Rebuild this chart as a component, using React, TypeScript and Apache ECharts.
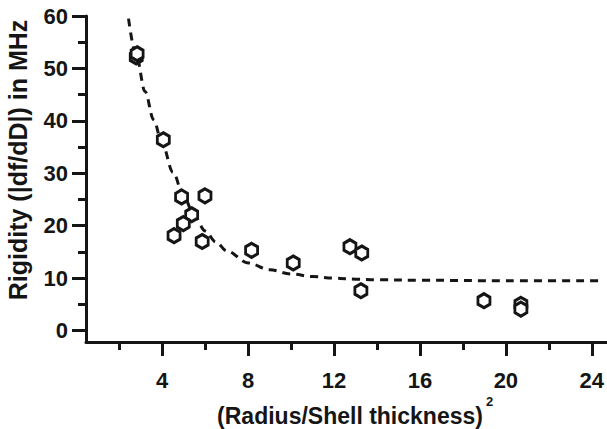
import React, { useEffect, useRef } from "react";
import * as echarts from "echarts";

// Measured points (x = (Radius/Shell thickness)^2, y = rigidity in MHz)
const pointX = [2.79, 2.83, 4.05, 4.9, 5.99, 5.37, 4.98, 4.55, 5.86, 8.16, 10.1, 12.74, 13.29, 13.25, 18.98, 20.7, 20.7];
const pointY = [52.2, 52.8, 36.4, 25.5, 25.7, 22.1, 20.4, 18.1, 17.0, 15.3, 12.9, 16.0, 14.8, 7.6, 5.7, 5.0, 4.1];

// Dashed fit curve
const fitX = [2.43, 2.8, 3.2, 3.6, 4.0, 4.5, 5.0, 5.5, 6.0, 6.5, 7.0, 8.0, 9.0, 10.0, 11.0, 12.0, 13.0, 14.0, 16.0, 20.0, 24.5];
const fitY = [59.5, 52.3, 45.6, 40.2, 35.6, 30.2, 25.6, 21.8, 19.0, 16.9, 15.2, 12.9, 11.6, 10.8, 10.3, 10.0, 9.8, 9.7, 9.6, 9.5, 9.5];

// Ticks
const xMajorTicks = [4, 8, 12, 16, 20, 24];
const xMinorTicks = [2, 6, 10, 14, 18, 22];
const yMajorTicks = [0, 10, 20, 30, 40, 50, 60];
const yMinorTicks = [5, 15, 25, 35, 45, 55];

const INK = "#151515";
const FONT = "'Liberation Sans', Arial, Helvetica, sans-serif";

export default function App() {
  const ref = useRef<HTMLDivElement>(null);
  useEffect(() => {
    if (!ref.current) return;
    const chart = echarts.init(ref.current, undefined, { renderer: "svg" });
    const XMIN = 0.45, XMAX = 24.7, YMIN = -2.18, YMAX = 60;
    const baseX = {
      type: "value" as const,
      min: XMIN,
      max: XMAX,
      position: "bottom" as const,
      splitLine: { show: false },
    };
    const baseY = {
      type: "value" as const,
      min: YMIN,
      max: YMAX,
      position: "left" as const,
      splitLine: { show: false },
    };
    chart.setOption({
      animation: false,
      backgroundColor: "#ffffff",
      grid: { left: 86, right: 0, top: 16, bottom: 87, containLabel: false },
      xAxis: [
        {
          ...baseX,
          axisLine: { show: true, onZero: false, lineStyle: { color: INK, width: 3 } },
          axisTick: { show: true, customValues: xMajorTicks, length: 14, lineStyle: { color: INK, width: 3 } },
          axisLabel: {
            show: true,
            customValues: xMajorTicks,
            margin: 27,
            color: INK,
            fontSize: 22,
            fontWeight: "bold",
            fontFamily: FONT,
          },
        },
        {
          ...baseX,
          axisLine: { show: false, onZero: false },
          axisTick: { show: true, customValues: xMinorTicks, length: 8, lineStyle: { color: INK, width: 3 } },
          axisLabel: { show: false },
        },
      ],
      yAxis: [
        {
          ...baseY,
          axisLine: { show: true, onZero: false, lineStyle: { color: INK, width: 3 } },
          axisTick: { show: true, customValues: yMajorTicks, length: 14, lineStyle: { color: INK, width: 3 } },
          axisLabel: {
            show: true,
            customValues: yMajorTicks,
            margin: 18,
            color: INK,
            fontSize: 22,
            fontWeight: "bold",
            fontFamily: FONT,
          },
        },
        {
          ...baseY,
          axisLine: { show: false, onZero: false },
          axisTick: { show: true, customValues: yMinorTicks, length: 8, lineStyle: { color: INK, width: 3 } },
          axisLabel: { show: false },
        },
      ],
      series: [
        {
          type: "line",
          xAxisIndex: 0,
          yAxisIndex: 0,
          data: fitX.map((x, i) => [x, fitY[i]]),
          smooth: 0.35,
          smoothMonotone: "x",
          showSymbol: false,
          symbol: "none",
          lineStyle: { color: INK, width: 3, type: [8, 6] },
          z: 2,
          silent: true,
        },
        {
          type: "scatter",
          xAxisIndex: 0,
          yAxisIndex: 0,
          data: pointX.map((x, i) => [x, pointY[i]]),
          symbol: "path://M0,-1 L0.866,-0.5 L0.866,0.5 L0,1 L-0.866,0.5 L-0.866,-0.5 Z",
          symbolSize: [12, 14],
          itemStyle: { color: "#ffffff", borderColor: INK, borderWidth: 3, opacity: 1 },
          z: 3,
          silent: true,
        },
      ],
      graphic: [
        {
          type: "text",
          x: 18,
          y: 160,
          rotation: Math.PI / 2,
          style: {
            text: "Rigidity (|df/dD|) in MHz",
            fill: INK,
            font: `bold 25px ${FONT}`,
            textAlign: "center",
            textVerticalAlign: "middle",
          },
        },
        {
          type: "text",
          x: 350,
          y: 416,
          style: {
            text: "(Radius/Shell thickness)",
            fill: INK,
            font: `bold 23px ${FONT}`,
            textAlign: "center",
            textVerticalAlign: "middle",
          },
        },
        {
          type: "text",
          x: 486,
          y: 401,
          style: {
            text: "2",
            fill: INK,
            font: `bold 13px ${FONT}`,
            textAlign: "left",
            textVerticalAlign: "middle",
          },
        },
      ],
    });
    return () => chart.dispose();
  }, []);
  return (
    <div
      ref={ref}
      style={{ position: "fixed", left: 0, top: 0, width: 607, height: 429, background: "#fff" }}
    />
  );
}
